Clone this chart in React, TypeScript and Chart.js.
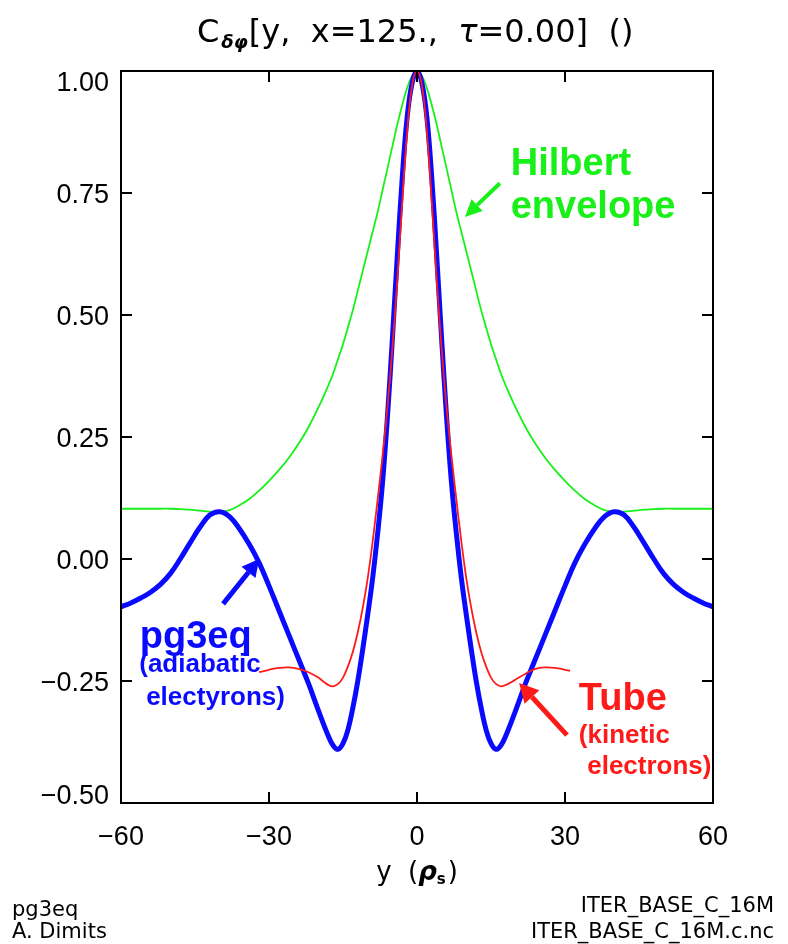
import React, { useEffect, useRef } from "react";
import { Chart, registerables } from "chart.js";
Chart.register(...registerables);

// y positions (rho_s) for the pg3eq and Hilbert-envelope curves
const yPositions = [
  -60, -58, -56, -54, -52, -50, -48, -46, -44, -42, -40, -38, -36, -34, -32, -30, -28, -26, -24, -22, -20,
  -18, -17, -16, -15, -14, -13, -12, -11, -10, -9, -8, -7, -6, -5, -4, -3, -2, -1, 0,
  1, 2, 3, 4, 5, 6, 7, 8, 9, 10, 11, 12, 13, 14, 15, 16, 17, 18,
  20, 22, 24, 26, 28, 30, 32, 34, 36, 38, 40, 42, 44, 46, 48, 50, 52, 54, 56, 58, 60,
];
const pg3eqValues = [
  -0.098, -0.09, -0.08, -0.068, -0.052, -0.03, 0.0, 0.033, 0.065, 0.09, 0.097, 0.087, 0.062, 0.03, -0.008, -0.055, -0.105, -0.155, -0.205, -0.255, -0.31,
  -0.362, -0.382, -0.39, -0.378, -0.35, -0.305, -0.25, -0.185, -0.115, -0.04, 0.05, 0.155, 0.29, 0.45, 0.62, 0.78, 0.905, 0.975, 1.0,
  0.975, 0.905, 0.78, 0.62, 0.45, 0.29, 0.155, 0.05, -0.04, -0.115, -0.185, -0.25, -0.305, -0.35, -0.378, -0.39, -0.382, -0.362,
  -0.31, -0.255, -0.205, -0.155, -0.105, -0.055, -0.008, 0.03, 0.062, 0.087, 0.097, 0.09, 0.065, 0.033, 0.0, -0.03, -0.052, -0.068, -0.08, -0.09, -0.098,
];
const envelopeValues = [
  0.103, 0.103, 0.103, 0.103, 0.103, 0.103, 0.102, 0.101, 0.099, 0.097, 0.096, 0.1, 0.11, 0.123, 0.14, 0.16, 0.182, 0.207, 0.236, 0.27, 0.31,
  0.355, 0.38, 0.41, 0.44, 0.475, 0.51, 0.55, 0.59, 0.63, 0.67, 0.71, 0.755, 0.8, 0.845, 0.89, 0.93, 0.965, 0.99, 1.0,
  0.99, 0.965, 0.93, 0.89, 0.845, 0.8, 0.755, 0.71, 0.67, 0.63, 0.59, 0.55, 0.51, 0.475, 0.44, 0.41, 0.38, 0.355,
  0.31, 0.27, 0.236, 0.207, 0.182, 0.16, 0.14, 0.123, 0.11, 0.1, 0.096, 0.097, 0.099, 0.101, 0.102, 0.103, 0.103, 0.103, 0.103, 0.103, 0.103,
];

// Tube (kinetic electrons) curve
const tubePositions = [
  -32, -30, -28, -26, -24, -22, -20, -19, -18, -17, -16, -15, -14, -13, -12, -11, -10, -9, -8, -7, -6, -5, -4, -3, -2, -1, 0,
  1, 2, 3, 4, 5, 6, 7, 8, 9, 10, 11, 12, 13, 14, 15, 16, 17, 18, 19, 20, 22, 24, 26, 28, 30, 31,
];
const tubeValues = [
  -0.232, -0.227, -0.223, -0.222, -0.225, -0.232, -0.243, -0.251, -0.258, -0.261, -0.256, -0.243, -0.22, -0.19, -0.15, -0.1, -0.04, 0.035, 0.12, 0.21, 0.31, 0.43, 0.57, 0.73, 0.875, 0.97, 1.0,
  0.97, 0.875, 0.73, 0.57, 0.43, 0.31, 0.21, 0.12, 0.035, -0.04, -0.1, -0.15, -0.19, -0.22, -0.243, -0.256, -0.261, -0.258, -0.253, -0.247, -0.235, -0.225, -0.222, -0.223, -0.227, -0.229,
];

const xTickValues = [-60, -30, 0, 30, 60];
const xTickLabels = ["\u221260", "\u221230", "0", "30", "60"];
const yTickValues = [-0.5, -0.25, 0, 0.25, 0.5, 0.75, 1.0];
const yTickLabels = ["\u22120.50", "\u22120.25", "0.00", "0.25", "0.50", "0.75", "1.00"];

const BLUE = "#0a0aff";
const RED = "#ff1a1a";
const GREEN = "#19f019";

function arrow(ctx: CanvasRenderingContext2D, x1: number, y1: number, x2: number, y2: number, color: string, width: number, headLen: number, headHalf: number) {
  const ang = Math.atan2(y2 - y1, x2 - x1);
  const bx = x2 - headLen * Math.cos(ang);
  const by = y2 - headLen * Math.sin(ang);
  ctx.save();
  ctx.strokeStyle = color;
  ctx.fillStyle = color;
  ctx.lineWidth = width;
  ctx.lineCap = "butt";
  ctx.beginPath();
  ctx.moveTo(x1, y1);
  ctx.lineTo(bx, by);
  ctx.stroke();
  ctx.beginPath();
  ctx.moveTo(x2, y2);
  ctx.lineTo(bx + headHalf * Math.sin(ang), by - headHalf * Math.cos(ang));
  ctx.lineTo(bx - headHalf * Math.sin(ang), by + headHalf * Math.cos(ang));
  ctx.closePath();
  ctx.fill();
  ctx.restore();
}

const decorPlugin = {
  id: "decor",
  afterDraw(chart: any) {
    const ctx: CanvasRenderingContext2D = chart.ctx;
    const { left, right, top, bottom } = chart.chartArea;
    const xs = chart.scales.x;
    const ys = chart.scales.y;
    const px = (v: number) => xs.getPixelForValue(v);
    const py = (v: number) => ys.getPixelForValue(v);
    ctx.save();

    // frame
    ctx.strokeStyle = "#000";
    ctx.lineWidth = 2;
    ctx.strokeRect(left, top, right - left, bottom - top);

    // ticks (inward)
    const tl = 11;
    ctx.beginPath();
    xTickValues.forEach((v) => {
      const x = px(v);
      ctx.moveTo(x, bottom);
      ctx.lineTo(x, bottom - tl);
      ctx.moveTo(x, top);
      ctx.lineTo(x, top + tl);
    });
    yTickValues.forEach((v) => {
      const y = py(v);
      ctx.moveTo(left, y);
      ctx.lineTo(left + tl, y);
      ctx.moveTo(right, y);
      ctx.lineTo(right - tl, y);
    });
    ctx.stroke();

    // tick labels
    ctx.fillStyle = "#000";
    ctx.font = '27px "Liberation Sans"';
    ctx.textAlign = "right";
    ctx.textBaseline = "alphabetic";
    yTickValues.forEach((v, i) => {
      const base = Math.min(Math.max(py(v) + 10, top + 20), bottom + 1);
      ctx.fillText(yTickLabels[i], left - 12, base);
    });
    ctx.textAlign = "center";
    xTickValues.forEach((v, i) => {
      ctx.fillText(xTickLabels[i], px(v), bottom + 42);
    });

    // title
    ctx.textAlign = "left";
    let tx = 197;
    const tb = 42;
    ctx.font = '32px "DejaVu Sans"';
    ctx.fillText("C", tx, tb);
    tx += ctx.measureText("C").width + 2;
    ctx.font = 'bold italic 18px "DejaVu Sans"';
    ctx.fillText("\u03b4\u03c6", tx, tb + 6);
    tx += ctx.measureText("\u03b4\u03c6").width + 1;
    ctx.font = '32px "DejaVu Sans"';
    const t1 = "[y,  x=125.,  ";
    ctx.fillText(t1, tx, tb);
    tx += ctx.measureText(t1).width;
    ctx.font = 'italic 32px "DejaVu Sans"';
    ctx.fillText("\u03c4", tx, tb);
    tx += ctx.measureText("\u03c4").width;
    ctx.font = '32px "DejaVu Sans"';
    ctx.fillText("=0.00]  ()", tx, tb);

    // x axis title: y (rho_s)
    const xb = 880;
    ctx.font = '26px "DejaVu Sans"';
    const p1 = "y  (";
    const w1 = ctx.measureText(p1).width;
    ctx.font = 'bold italic 26px "DejaVu Sans"';
    const w2 = ctx.measureText("\u03c1").width;
    ctx.font = 'bold 15px "DejaVu Sans"';
    const w3 = ctx.measureText("s").width;
    ctx.font = '26px "DejaVu Sans"';
    const w4 = ctx.measureText(")").width;
    let ax = (left + right) / 2 - (w1 + w2 + w3 + w4 + 2) / 2;
    ctx.fillText(p1, ax, xb);
    ax += w1;
    ctx.font = 'bold italic 26px "DejaVu Sans"';
    ctx.fillText("\u03c1", ax, xb);
    ax += w2;
    ctx.font = 'bold 15px "DejaVu Sans"';
    ctx.fillText("s", ax, xb + 4);
    ax += w3 + 2;
    ctx.font = '26px "DejaVu Sans"';
    ctx.fillText(")", ax, xb);

    // footer
    ctx.font = '21px "DejaVu Sans"';
    ctx.textAlign = "left";
    ctx.fillText("pg3eq", 12, 916);
    ctx.fillText("A. Dimits", 12, 938);
    ctx.textAlign = "right";
    ctx.fillText("ITER_BASE_C_16M", 774, 912);
    ctx.fillText("ITER_BASE_C_16M.c.nc", 774, 938);

    // annotations
    ctx.textAlign = "left";
    ctx.fillStyle = GREEN;
    ctx.font = 'bold 38px "Liberation Sans"';
    ctx.fillText("Hilbert", px(19.0), py(0.787));
    ctx.fillText("envelope", px(19.0), py(0.699));
    arrow(ctx, px(16.8), py(0.77), px(9.7), py(0.701), GREEN, 4, 17, 8);

    ctx.fillStyle = BLUE;
    ctx.font = 'bold 38px "Liberation Sans"';
    ctx.fillText("pg3eq", px(-56.2), py(-0.182));
    ctx.font = 'bold 26px "Liberation Sans"';
    ctx.fillText("(adiabatic", px(-56.3), py(-0.232));
    ctx.fillText("electyrons)", px(-54.9), py(-0.299));
    arrow(ctx, px(-39.3), py(-0.092), px(-32.0), py(0.0), BLUE, 5, 17, 9);

    ctx.fillStyle = RED;
    ctx.font = 'bold 38px "Liberation Sans"';
    ctx.fillText("Tube", px(32.8), py(-0.309));
    ctx.font = 'bold 26px "Liberation Sans"';
    ctx.fillText("(kinetic", px(32.8), py(-0.377));
    ctx.fillText("electrons)", px(34.5), py(-0.441));
    arrow(ctx, px(30.4), py(-0.361), px(20.7), py(-0.254), RED, 5, 19, 10);

    ctx.restore();
  },
};

export default function App() {
  const ref = useRef<HTMLCanvasElement | null>(null);
  useEffect(() => {
    if (!ref.current) return;
    const chart = new Chart(ref.current, {
      type: "line",
      data: {
        datasets: [
          {
            label: "Tube",
            data: tubePositions.map((x, i) => ({ x, y: tubeValues[i] })),
            borderColor: RED,
            borderWidth: 1.8,
            pointRadius: 0,
            tension: 0.4,
            order: 0,
          },
          {
            label: "pg3eq",
            data: yPositions.map((x, i) => ({ x, y: pg3eqValues[i] })),
            borderColor: BLUE,
            borderWidth: 5,
            pointRadius: 0,
            tension: 0.4,
            order: 1,
          },
          {
            label: "Hilbert envelope",
            data: yPositions.map((x, i) => ({ x, y: envelopeValues[i] })),
            borderColor: GREEN,
            borderWidth: 1.8,
            pointRadius: 0,
            tension: 0.4,
            order: 2,
          },
        ],
      },
      options: {
        animation: false,
        responsive: false,
        maintainAspectRatio: false,
        devicePixelRatio: 1,
        layout: { padding: { left: 121, right: 75, top: 71, bottom: 141 } },
        plugins: { legend: { display: false }, tooltip: { enabled: false }, title: { display: false } },
        scales: {
          x: { type: "linear", min: -60, max: 60, display: false },
          y: { type: "linear", min: -0.5, max: 1.0, display: false },
        },
      } as any,
      plugins: [decorPlugin],
    } as any);
    return () => chart.destroy();
  }, []);
  return (
    <div style={{ position: "absolute", left: 0, top: 0, width: 788, height: 944, background: "#fff" }}>
      <canvas ref={ref} width={788} height={944} style={{ width: 788, height: 944, display: "block" }} />
    </div>
  );
}
